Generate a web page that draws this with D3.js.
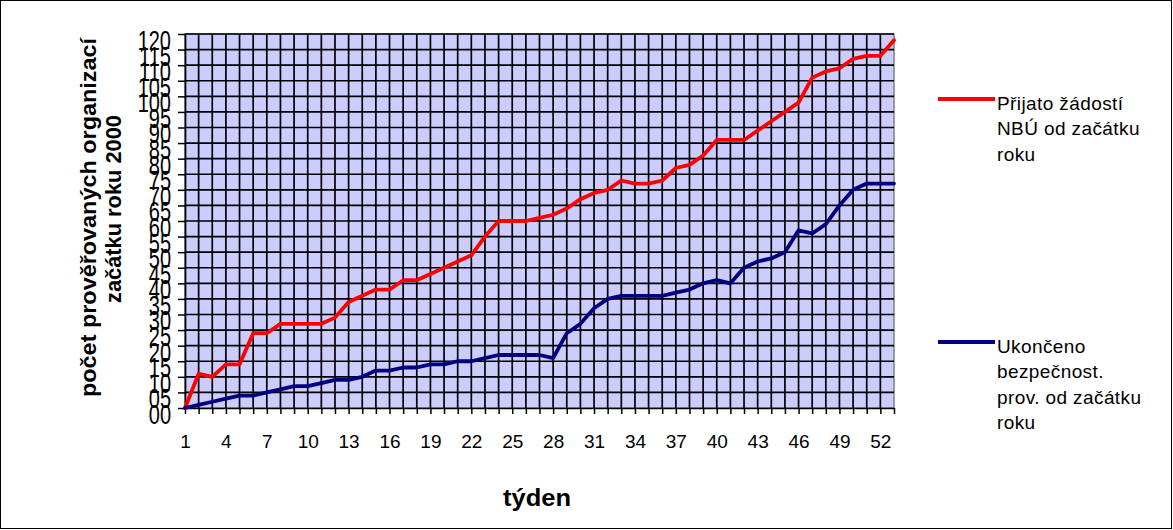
<!DOCTYPE html>
<html>
<head>
<meta charset="utf-8">
<script src="https://cdn.jsdelivr.net/npm/d3@7/dist/d3.min.js"></script>
<style>
  html, body { margin: 0; padding: 0; background: #fff; }
  svg { display: block; }
  text { font-family: "Liberation Sans", Arial, sans-serif; }
</style>
</head>
<body>
<svg id="chart" width="1173" height="530"></svg>
<script>
// ---- data ----
const weeks = d3.range(1, 54);
const prijato = [0, 11, 10, 14, 14, 24, 24, 27, 27, 27, 27, 29, 34, 36, 38, 38, 41, 41, 43, 45,
                 47, 49, 55, 60, 60, 60, 61, 62, 64, 67, 69, 70, 73, 72, 72, 73, 77, 78, 81, 86,
                 86, 86, 89, 92, 95, 98, 106, 108, 109, 112, 113, 113, 118];
const ukonceno = [0, 1, 2, 3, 4, 4, 5, 6, 7, 7, 8, 9, 9, 10, 12, 12, 13, 13, 14, 14,
                  15, 15, 16, 17, 17, 17, 17, 16, 24, 27, 32, 35, 36, 36, 36, 36, 37, 38, 40, 41,
                  40, 45, 47, 48, 50, 57, 56, 59, 65, 70, 72, 72, 72];
const xTickLabels = [1, 4, 7, 10, 13, 16, 19, 22, 25, 28, 31, 34, 37, 40, 43, 46, 49, 52];
const yTicks = d3.range(0, 121, 5);
const seriesNames = [
  ["Přijato žádostí", "NBÚ od začátku", "roku"],
  ["Ukončeno", "bezpečnost.", "prov. od začátku", "roku"]
];
const seriesColors = ["#ff0000", "#000080"];
const xTitle = "týden";
const yTitle = ["počet prověřovaných organizací", "začátku roku 2000"];

// ---- layout ----
const svg = d3.select("#chart");
const L = 185, R = 894, T = 34, B = 408;

svg.append("rect").attr("x", 0.5).attr("y", 0.5).attr("width", 1171).attr("height", 528)
  .attr("fill", "#fff").attr("stroke", "#000").attr("stroke-width", 1);

const x = d3.scalePoint().domain(weeks).range([L, R]).padding(0);
const y = d3.scaleLinear().domain([0, 120]).range([B, T]);

// plot background
svg.append("rect").attr("x", L).attr("y", T).attr("width", R - L).attr("height", B - T)
  .attr("fill", "#ccccff").attr("stroke", "#808080").attr("stroke-width", 1.5);

// grid
const grid = svg.append("g").attr("stroke", "#000").attr("stroke-width", 1.7);
grid.selectAll("line.h").data(yTicks.slice(1)).enter().append("line")
  .attr("x1", L).attr("x2", R).attr("y1", d => y(d)).attr("y2", d => y(d));
grid.selectAll("line.v").data(weeks.slice(1, -1)).enter().append("line")
  .attr("y1", T).attr("y2", B).attr("x1", d => x(d)).attr("x2", d => x(d));

// x axis
const xAxis = svg.append("g").attr("transform", `translate(0,${B})`)
  .call(d3.axisBottom(x).tickSize(6).tickSizeOuter(0)
    .tickFormat(d => xTickLabels.includes(d) ? String(d) : ""));
xAxis.select(".domain").attr("stroke", "#000").attr("stroke-width", 1.7);
xAxis.selectAll(".tick line").attr("stroke", "#000").attr("stroke-width", 1.5);
xAxis.selectAll(".tick text").attr("font-size", 19).attr("fill", "#000")
  .attr("font-family", "'Liberation Sans', Arial, sans-serif").attr("dy", 0).attr("y", 40);

// y axis
const yAxis = svg.append("g").attr("transform", `translate(${L},0)`)
  .call(d3.axisLeft(y).tickValues(yTicks).tickSize(7).tickSizeOuter(0).tickFormat(() => ""));
yAxis.select(".domain").attr("stroke", "#000").attr("stroke-width", 1.7);
yAxis.selectAll(".tick line").attr("stroke", "#000").attr("stroke-width", 1.5);

const fmt = d3.format("02d");
svg.append("g").selectAll("text").data(yTicks).enter().append("text")
  .attr("transform", d => `translate(171,${y(d)}) scale(1,1.35)`)
  .attr("y", 11.8).attr("text-anchor", "end").attr("font-size", 20).attr("fill", "#000")
  .text(d => fmt(d));

// lines
const line = d3.line().x((d, i) => x(weeks[i])).y(d => y(d));
[prijato, ukonceno].forEach((s, i) => {
  svg.append("path").datum(s).attr("d", line).attr("fill", "none")
    .attr("stroke", seriesColors[i]).attr("stroke-width", 3.8)
    .attr("stroke-linejoin", "round").attr("stroke-linecap", "round");
});

// axis titles
svg.append("text").attr("x", 537).attr("y", 506).attr("text-anchor", "middle")
  .attr("font-size", 23).attr("font-weight", "bold").attr("fill", "#000")
  .attr("textLength", 68).attr("lengthAdjust", "spacingAndGlyphs").text(xTitle);

const yt = svg.append("g").attr("transform", "translate(0,0) rotate(-90)");
yt.append("text").attr("x", -217.5).attr("y", 96).attr("text-anchor", "middle")
  .attr("font-size", 22).attr("font-weight", "bold").attr("fill", "#000")
  .attr("textLength", 359).attr("lengthAdjust", "spacingAndGlyphs").text(yTitle[0]);
yt.append("text").attr("x", -209).attr("y", 121).attr("text-anchor", "middle")
  .attr("font-size", 22).attr("font-weight", "bold").attr("fill", "#000")
  .attr("textLength", 188).attr("lengthAdjust", "spacingAndGlyphs").text(yTitle[1]);

// legend
const legendY = [99, 342];
seriesNames.forEach((lines, i) => {
  const g = svg.append("g");
  g.append("line").attr("x1", 938).attr("x2", 995).attr("y1", legendY[i]).attr("y2", legendY[i])
    .attr("stroke", seriesColors[i]).attr("stroke-width", 3.8);
  const t = g.append("text").attr("font-size", 19).attr("fill", "#000").attr("letter-spacing", 0.4);
  lines.forEach((s, j) => {
    t.append("tspan").attr("x", 997).attr("y", legendY[i] + 11 + j * 25.3).text(s);
  });
});
</script>
</body>
</html>
